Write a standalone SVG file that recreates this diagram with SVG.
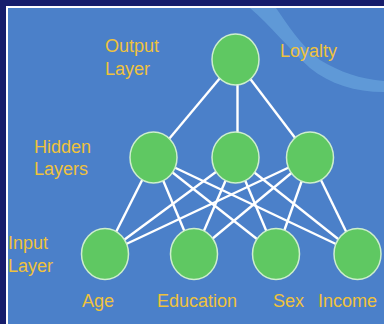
<svg xmlns="http://www.w3.org/2000/svg" width="384" height="324" viewBox="0 0 384 324">
<style>
.node{fill:#5fc862;stroke:#cdeecd;stroke-width:1.5}
.edge{stroke:#ffffff;stroke-width:2.4;fill:none;stroke-linecap:butt}
.lbl{font-family:"Liberation Sans",Arial,sans-serif;font-size:18px;fill:#efc23c}
</style>
<rect x="0" y="0" width="384" height="324" fill="#161d6c"/>
<rect x="6" y="6" width="378" height="318" fill="#ffffff"/>
<rect x="8" y="8" width="376" height="316" fill="#4b80c9"/>
<path d="M250,8 L276,8 C288,25 300,45 320,60 C340,72 360,79 384,81 L384,92 C355,92 330,84 310,68 C290,50 270,25 250,8 Z" fill="#74b2e6" opacity="0.5"/>
<g id="connectors">
<line class="edge" x1="235.5" y1="59.5" x2="153.5" y2="157.5"/>
<line class="edge" x1="237.5" y1="59.5" x2="237.5" y2="157.5"/>
<line class="edge" x1="235.5" y1="59.5" x2="310" y2="157.5"/>
<line class="edge" x1="153.5" y1="157.5" x2="105" y2="254"/>
<line class="edge" x1="153.5" y1="157.5" x2="194" y2="254"/>
<line class="edge" x1="153.5" y1="157.5" x2="276" y2="254"/>
<line class="edge" x1="153.5" y1="157.5" x2="357" y2="254"/>
<line class="edge" x1="235.5" y1="157.5" x2="105" y2="254"/>
<line class="edge" x1="235.5" y1="157.5" x2="194" y2="254"/>
<line class="edge" x1="235.5" y1="157.5" x2="276" y2="254"/>
<line class="edge" x1="235.5" y1="157.5" x2="357" y2="254"/>
<line class="edge" x1="310" y1="157.5" x2="105" y2="254"/>
<line class="edge" x1="310" y1="157.5" x2="194" y2="254"/>
<line class="edge" x1="310" y1="157.5" x2="276" y2="254"/>
<line class="edge" x1="310" y1="157.5" x2="357" y2="254"/>
</g>
<g id="output"><ellipse class="node" cx="235.5" cy="59.5" rx="23.5" ry="25.5"/></g>
<g id="hidden1"><ellipse class="node" cx="153.5" cy="157.5" rx="23.5" ry="25.5"/></g>
<g id="hidden2"><ellipse class="node" cx="235.5" cy="157.5" rx="23.5" ry="25.5"/></g>
<g id="hidden3"><ellipse class="node" cx="310" cy="157.5" rx="23.5" ry="25.5"/></g>
<g id="age"><ellipse class="node" cx="105" cy="254" rx="23.5" ry="25.5"/></g>
<g id="education"><ellipse class="node" cx="194" cy="254" rx="23.5" ry="25.5"/></g>
<g id="sex"><ellipse class="node" cx="276" cy="254" rx="23.5" ry="25.5"/></g>
<g id="income"><ellipse class="node" cx="357.5" cy="254" rx="23.5" ry="25.5"/></g>
<g id="labels">
<text class="lbl" x="105" y="52">Output</text>
<text class="lbl" x="105" y="75">Layer</text>
<text class="lbl" x="280" y="57">Loyalty</text>
<text class="lbl" x="34" y="153">Hidden</text>
<text class="lbl" x="34" y="175">Layers</text>
<text class="lbl" x="8" y="249">Input</text>
<text class="lbl" x="8" y="272">Layer</text>
<text class="lbl" x="82" y="307">Age</text>
<text class="lbl" x="157" y="307">Education</text>
<text class="lbl" x="273" y="307">Sex</text>
<text class="lbl" x="318" y="307">Income</text>
</g>
</svg>
